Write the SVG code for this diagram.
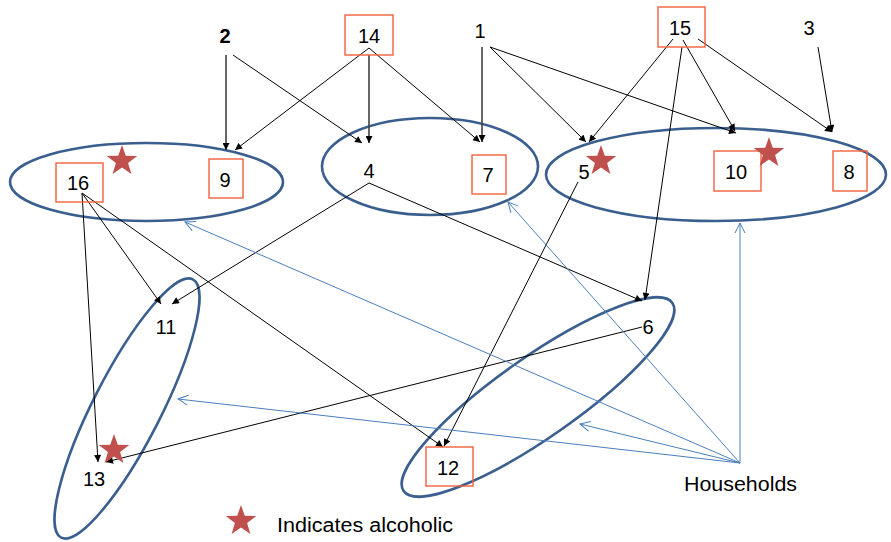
<svg xmlns="http://www.w3.org/2000/svg" width="891" height="542" viewBox="0 0 891 542">
<style>
text{font-family:"Liberation Sans",Arial,sans-serif;font-size:20px;fill:#000;text-anchor:middle}
text.s{text-anchor:start}
.hh{fill:none;stroke:#3a5f8f;stroke-width:2.6}
.box{fill:none;stroke:#f4603d;stroke-width:1.4}
.k{stroke:#000;stroke-width:1;fill:none;marker-end:url(#ka)}
.kv{stroke:#404040;stroke-width:1.6;fill:none;marker-end:url(#ka)}
.b{stroke:#4a7ebb;stroke-width:1;fill:none;marker-end:url(#ba)}
.star{fill:#c0504d}
</style>
<defs>
<marker id="ka" viewBox="0 0 10 10" refX="10" refY="5" markerWidth="8" markerHeight="7" markerUnits="userSpaceOnUse" orient="auto"><path d="M0,0 L10,5 L0,10 z" fill="#000"/></marker>
<marker id="ba" viewBox="0 0 12 12" refX="11" refY="6" markerWidth="12" markerHeight="12" markerUnits="userSpaceOnUse" orient="auto" overflow="visible"><path d="M1,1 L11,6 L1,11" fill="none" stroke="#4a7ebb" stroke-width="1"/></marker>
<path id="st" d="M0,-16 L3.76,-5.18 L15.22,-4.94 L6.09,1.98 L9.4,12.94 L0,6.4 L-9.4,12.94 L-6.09,1.98 L-15.22,-4.94 L-3.76,-5.18 Z"/>
</defs>

<g id="households">
<ellipse id="hh-a" class="hh" cx="146.5" cy="182" rx="136.5" ry="39"/>
<ellipse id="hh-b" class="hh" cx="430" cy="166.5" rx="108" ry="48.5"/>
<ellipse id="hh-c" class="hh" cx="716" cy="174.5" rx="170" ry="46.5"/>
<ellipse id="hh-d" class="hh" cx="127" cy="408.5" rx="145" ry="34" transform="rotate(-63 127 408.5)"/>
<ellipse id="hh-e" class="hh" cx="538" cy="397" rx="164" ry="40" transform="rotate(-35 538 397)"/>
</g>

<g id="connectors">
<line class="kv" x1="226" y1="55" x2="226" y2="150"/>
<line class="k" x1="233" y1="55" x2="362" y2="143"/>
<line class="k" x1="369" y1="48" x2="235" y2="150"/>
<line class="kv" x1="369" y1="55" x2="369" y2="143"/>
<line class="k" x1="369" y1="48" x2="480" y2="142"/>
<line class="kv" x1="482" y1="47" x2="482" y2="142"/>
<line class="k" x1="490" y1="47" x2="586" y2="142"/>
<line class="k" x1="490" y1="47" x2="736" y2="133"/>
<line class="k" x1="673" y1="39" x2="589" y2="142"/>
<line class="k" x1="682" y1="47" x2="645" y2="300"/>
<line class="k" x1="683" y1="40" x2="735" y2="131"/>
<line class="k" x1="698" y1="39" x2="832" y2="132"/>
<line class="k" x1="818" y1="47" x2="832" y2="132"/>
<line class="k" x1="82" y1="193" x2="161" y2="304"/>
<line class="k" x1="82" y1="193" x2="98" y2="462"/>
<line class="k" x1="82" y1="193" x2="443" y2="447"/>
<line class="k" x1="369" y1="183" x2="172" y2="304"/>
<line class="k" x1="369" y1="183" x2="642" y2="301"/>
<line class="k" x1="578" y1="182" x2="444" y2="446"/>
<line class="k" x1="642" y1="327" x2="106" y2="462"/>
<line class="b" x1="740" y1="463" x2="185" y2="222"/>
<line class="b" x1="740" y1="463" x2="178" y2="399"/>
<line class="b" x1="740" y1="463" x2="580" y2="424"/>
<line class="b" x1="740" y1="463" x2="508" y2="202"/>
<line class="b" x1="740" y1="463" x2="740" y2="223"/>
</g>

<g id="n1"><text x="480" y="38">1</text></g>
<g id="n2"><text x="225" y="43" font-weight="bold">2</text></g>
<g id="n3"><text x="809" y="35">3</text></g>
<g id="n4"><text x="369" y="178">4</text></g>
<g id="n5"><text x="584" y="179">5</text><use href="#st" class="star" x="601" y="161"/></g>
<g id="n6"><text x="648" y="334">6</text></g>
<g id="n7"><rect class="box" x="472" y="155" width="34" height="39"/><text x="488" y="182">7</text></g>
<g id="n8"><rect class="box" x="833" y="151" width="34" height="40"/><text x="849" y="179">8</text></g>
<g id="n9"><rect class="box" x="209" y="159" width="34" height="39"/><text x="225" y="187">9</text></g>
<g id="n10"><rect class="box" x="714" y="151" width="47" height="40"/><text x="736" y="179">10</text><use href="#st" class="star" x="769" y="153"/></g>
<g id="n11"><text x="166" y="334">11</text></g>
<g id="n12"><rect class="box" x="426" y="447" width="47" height="39"/><text x="448" y="475">12</text></g>
<g id="n13"><text x="94" y="486">13</text><use href="#st" class="star" x="114" y="450"/></g>
<g id="n14"><rect class="box" x="345" y="15" width="48" height="40"/><text x="369" y="43">14</text></g>
<g id="n15"><rect class="box" x="658" y="7" width="47" height="40"/><text x="680" y="35">15</text></g>
<g id="n16"><rect class="box" x="56" y="163" width="47" height="39"/><text x="78" y="190">16</text><use href="#st" class="star" x="122" y="161"/></g>
<g id="label-households"><text class="s" x="684" y="491" font-size="21" textLength="113" lengthAdjust="spacingAndGlyphs">Households</text></g>
<g id="legend"><use href="#st" class="star" x="241" y="521"/><text class="s" x="277" y="532" font-size="21.5" textLength="176" lengthAdjust="spacingAndGlyphs">Indicates alcoholic</text></g>
</svg>
